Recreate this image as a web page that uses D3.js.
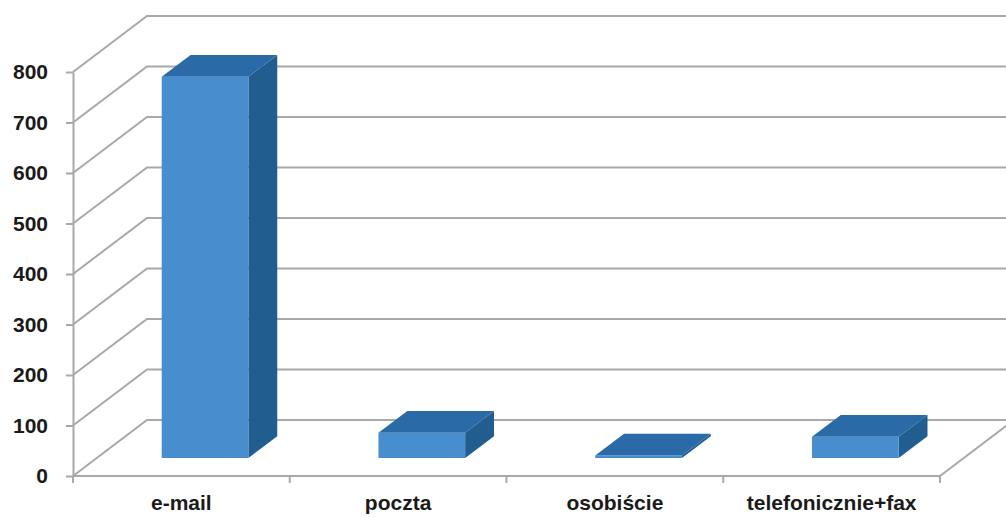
<!DOCTYPE html>
<html>
<head>
<meta charset="utf-8">
<script src="https://cdn.jsdelivr.net/npm/d3@7"></script>
<style>
  body { margin: 0; background: #fff; overflow: hidden; }
  svg { display: block; }
</style>
</head>
<body>
<div id="chart"></div>
<script>
const categories = ["e-mail", "poczta", "osobiście", "telefonicznie+fax"];
const values = [755, 50, 5, 42];
const yTicks = [0, 100, 200, 300, 400, 500, 600, 700, 800];

function createBar3DChart() {
    const width = 1006;
    const height = 517;

    // front plane of the box
    const left = 73, right = 940, top = 72, bottom = 476;
    // depth offset of the back wall
    const depthX = 74, depthY = -56;
    // bar sits between these depth fractions
    const barFront = 0.32, barBack = 0.71;

    const gridColor = "#a8a8a8";

    const svg = d3.select("#chart")
        .append("svg")
        .attr("width", width)
        .attr("height", height);

    const x = d3.scaleBand()
        .domain(categories)
        .range([left, right])
        .padding(0);

    const y = d3.scaleLinear()
        .domain([0, 800])
        .range([bottom, top]);

    const proj = (px, py, t) => [px + depthX * t, py + depthY * t];

    // back wall gridlines and left wall diagonals
    const grid = svg.append("g");
    yTicks.forEach(v => {
        const a = proj(left, y(v), 0);
        const b = proj(left, y(v), 1);
        grid.append("polyline")
            .attr("points", [a, b, [width + 20, b[1]]].map(p => p.join(",")).join(" "))
            .attr("fill", "none")
            .attr("stroke", gridColor)
            .attr("stroke-width", 2);
    });

    // floor right edge
    const fr = proj(right, y(0), 0);
    const br = proj(right, y(0), 1);
    grid.append("line")
        .attr("x1", fr[0]).attr("y1", fr[1])
        .attr("x2", br[0]).attr("y2", br[1])
        .attr("stroke", gridColor)
        .attr("stroke-width", 2);

    // floor front edge with category ticks at band boundaries
    grid.append("line")
        .attr("x1", left).attr("y1", y(0))
        .attr("x2", right).attr("y2", y(0))
        .attr("stroke", gridColor)
        .attr("stroke-width", 2);

    const bounds = categories.map(c => x(c)).concat([right]);
    grid.selectAll(".xtick")
        .data(bounds)
        .enter()
        .append("line")
        .attr("class", "xtick")
        .attr("x1", d => d).attr("x2", d => d)
        .attr("y1", y(0)).attr("y2", y(0) + 7)
        .attr("stroke", gridColor)
        .attr("stroke-width", 2);

    // y axis
    const yAxis = svg.append("g")
        .attr("transform", `translate(${left},0)`)
        .call(d3.axisLeft(y).tickValues(yTicks).tickSize(7).tickSizeOuter(0).tickPadding(18));
    yAxis.select(".domain").attr("stroke", gridColor).attr("stroke-width", 2);
    yAxis.selectAll(".tick line").attr("stroke", gridColor).attr("stroke-width", 2);
    yAxis.selectAll(".tick text")
        .attr("fill", "#1a1a1a")
        .style("font-family", "'Liberation Sans', Arial, sans-serif")
        .style("font-weight", "bold")
        .style("font-size", "21px");

    // bars
    const data = categories.map((c, i) => ({ name: c, value: values[i] }));
    const barW = x.bandwidth() * 0.4;

    const bars = svg.selectAll(".bar")
        .data(data)
        .enter()
        .append("g")
        .attr("class", "bar");

    const pts = arr => arr.map(p => p.join(",")).join(" ");

    bars.each(function(d) {
        const g = d3.select(this);
        const cx = x(d.name) + x.bandwidth() / 2;
        const x0 = cx - barW / 2, x1 = cx + barW / 2;
        const y0 = y(0), y1 = y(d.value);

        const fBL = proj(x0, y0, barFront), fBR = proj(x1, y0, barFront);
        const fTL = proj(x0, y1, barFront), fTR = proj(x1, y1, barFront);
        const bTL = proj(x0, y1, barBack), bTR = proj(x1, y1, barBack);
        const bBR = proj(x1, y0, barBack);

        // side
        g.append("polygon")
            .attr("points", pts([fBR, fTR, bTR, bBR]))
            .attr("fill", "#225d8f");
        // front
        g.append("polygon")
            .attr("points", pts([fBL, fBR, fTR, fTL]))
            .attr("fill", "#488dce");
        // top
        g.append("polygon")
            .attr("points", pts([fTL, fTR, bTR, bTL]))
            .attr("fill", "#2a6ba7");
    });

    // category labels
    svg.selectAll(".xlabel")
        .data(categories)
        .enter()
        .append("text")
        .attr("class", "xlabel")
        .attr("x", d => x(d) + x.bandwidth() / 2)
        .attr("y", 510)
        .attr("text-anchor", "middle")
        .attr("fill", "#1a1a1a")
        .style("font-family", "'Liberation Sans', Arial, sans-serif")
        .style("font-weight", "bold")
        .style("font-size", "21px")
        .text(d => d);
}

createBar3DChart();
</script>
</body>
</html>
